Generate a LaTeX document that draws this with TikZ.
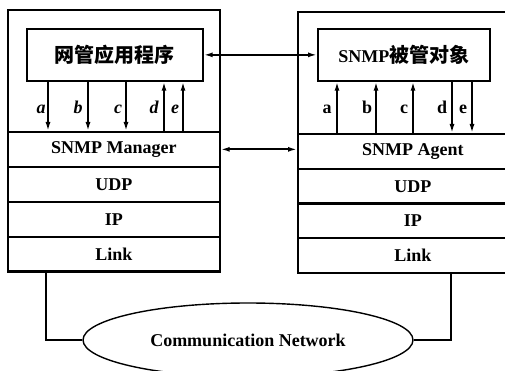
\documentclass[tikz,border=0pt]{standalone}
\usepackage{fontspec}
\setmainfont{Liberation Serif}
\newfontfamily\cjk{Noto Sans CJK SC}
\usetikzlibrary{arrows.meta,shapes.geometric}
\begin{document}
\begin{tikzpicture}[x=1pt,y=-1pt,
  frame/.style={draw, line width=1.7pt, inner sep=0pt, anchor=north west},
  row/.style={frame, minimum width=#1, minimum height=35pt, font=\fontsize{18}{20}\selectfont\bfseries},
  lnk/.style={line width=1.7pt},
  tip/.style={-{Latex[length=9pt,width=5pt]}},
  lbl/.style={font=\fontsize{18}{20}\selectfont\bfseries, inner sep=0pt, anchor=base},
]
\useasboundingbox (0,0) rectangle (505,371);
\clip (0,0) rectangle (505,371);

% left station
\node[frame, minimum width=212pt, minimum height=261pt] (outL) at (7,9) {};
\node[frame, minimum width=176pt, minimum height=52pt, font=\fontsize{20}{22}\selectfont\bfseries\cjk] (inL) at (26,28) {网管应用程序};
\node[row=212pt] (mgr) at (7,131) {SNMP Manager};
\node[row=212pt] (udpL) at (7,166) {UDP};
\node[row=212pt] (ipL) at (7,201) {IP};
\node[row=212pt] (linkL) at (7,236) {Link};

% right station
\node[frame, minimum width=230pt, minimum height=261pt] (outR) at (297,11) {};
\node[frame, minimum width=172pt, minimum height=52pt, font=\fontsize{18}{20}\selectfont\bfseries] (inR) at (317,28) {SNMP{\cjk\fontsize{20}{22}\selectfont 被管对象}};
\node[row=230pt] (agt) at (297,133) {SNMP Agent};
\node[row=230pt] (udpR) at (297,168) {UDP};
\node[row=230pt] (ipR) at (297,202) {IP};
\node[row=230pt] (linkR) at (297,237) {Link};

% network
\node[draw, ellipse, line width=1.4pt, minimum width=330pt, minimum height=74pt, inner sep=0pt,
      font=\fontsize{18}{20}\selectfont\bfseries] (net) at (248,340) {Communication Network};

% horizontal double arrows
\draw[lnk, {Latex[length=9pt,width=5pt]}-{Latex[length=9pt,width=5pt]}] (inL.east) -- (inR.west);
\draw[lnk, {Latex[length=9pt,width=5pt]}-{Latex[length=9pt,width=5pt]}] (mgr.east) -- (mgr.east -| agt.west);

% column positions
\coordinate (la) at (48,0);  \coordinate (lb) at (88,0);  \coordinate (lc) at (126,0);
\coordinate (ld) at (164,0); \coordinate (le) at (183,0);
\coordinate (ra) at (337,0); \coordinate (rb) at (376,0); \coordinate (rc) at (413,0);
\coordinate (rd) at (452,0); \coordinate (re) at (472,0);

% left vertical arrows
\draw[lnk, tip] (inL.south -| la) -- (mgr.north -| la);
\draw[lnk, tip] (inL.south -| lb) -- (mgr.north -| lb);
\draw[lnk, tip] (inL.south -| lc) -- (mgr.north -| lc);
\draw[lnk, tip] (mgr.north -| ld) -- (inL.south -| ld);
\draw[lnk, tip] (mgr.north -| le) -- (inL.south -| le);
\node[lbl] (tla) at (41,114) {\itshape a};
\node[lbl] (tlb) at (78,114) {\itshape b};
\node[lbl] (tlc) at (118,114) {\itshape c};
\node[lbl] (tld) at (154,114) {\itshape d};
\node[lbl] (tle) at (175,114) {\itshape e};

% right vertical arrows
\draw[lnk, tip] (agt.north -| ra) -- (inR.south -| ra);
\draw[lnk, tip] (agt.north -| rb) -- (inR.south -| rb);
\draw[lnk, tip] (agt.north -| rc) -- (inR.south -| rc);
\draw[lnk, tip] (inR.south -| rd) -- (agt.north -| rd);
\draw[lnk, tip] (inR.south -| re) -- (agt.north -| re);
\node[lbl] (tra) at (327,114) {a};
\node[lbl] (trb) at (367,114) {b};
\node[lbl] (trc) at (404,114) {c};
\node[lbl] (trd) at (442,114) {d};
\node[lbl] (tre) at (463,114) {e};

% network links
\coordinate (cl) at (46,0);
\coordinate (cr) at (451,0);
\draw[lnk] (linkL.south -| cl) |- (net.west);
\draw[lnk] (linkR.south -| cr) |- (net.east);
\end{tikzpicture}
\end{document}
